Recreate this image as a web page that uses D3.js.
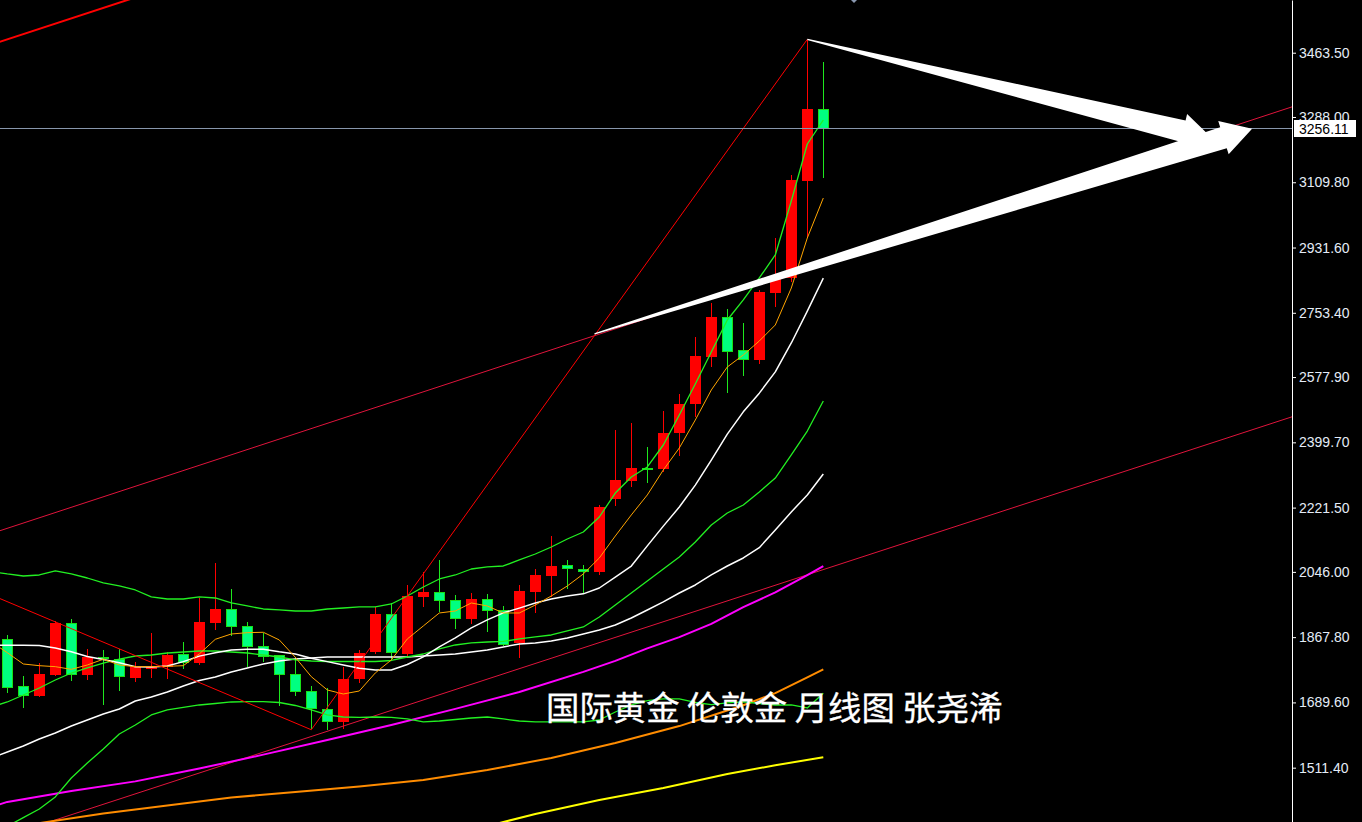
<!DOCTYPE html>
<html><head><meta charset="utf-8">
<script src="https://cdn.jsdelivr.net/npm/d3@7"></script>
<style>html,body{margin:0;padding:0;background:#000;overflow:hidden}</style>
</head><body>
<svg id="chart" width="1362" height="822"></svg>
<script>
// ---------- DATA (XAUUSD monthly) ----------
const months = ["2021-02","2021-03","2021-04","2021-05","2021-06","2021-07","2021-08","2021-09","2021-10","2021-11","2021-12","2022-01","2022-02","2022-03","2022-04","2022-05","2022-06","2022-07","2022-08","2022-09","2022-10","2022-11","2022-12","2023-01","2023-02","2023-03","2023-04","2023-05","2023-06","2023-07","2023-08","2023-09","2023-10","2023-11","2023-12","2024-01","2024-02","2024-03","2024-04","2024-05","2024-06","2024-07","2024-08","2024-09","2024-10","2024-11","2024-12","2025-01","2025-02","2025-03","2025-04","2025-05"];
const open  = [1862.0,1734.4,1708.0,1764.5,1906.5,1764.5,1812.8,1807.4,1757.1,1784.0,1785.5,1821.8,1796.4,1907.3,1943.9,1898.3,1843.7,1818.3,1767.2,1720.8,1670.8,1637.0,1752.8,1828.1,1931.0,1821.8,1978.3,1990.3,1969.3,1917.4,1972.0,1942.0,1851.1,1991.9,2035.6,2064.0,2053.1,2046.5,2244.2,2295.0,2330.5,2326.1,2424.4,2503.6,2633.6,2741.1,2651.8,2624.5,2808.3,2847.6,3114.1,3309.0];
const high  = [1873.7,1761.8,1797.2,1912.7,1916.6,1836.3,1832.8,1836.3,1800.8,1878.3,1828.1,1853.8,1975.6,2069.5,1998.5,1910.1,1879.9,1820.0,1812.8,1734.4,1728.2,1785.5,1832.8,1949.3,1960.2,2010.3,2046.5,2078.5,1982.9,1989.2,1985.0,1952.9,2010.3,2053.0,2144.0,2078.5,2064.8,2228.7,2433.4,2451.7,2387.8,2485.3,2531.7,2688.1,2781.0,2762.9,2726.4,2815.6,2956.8,3129.6,3498.3,3439.0];
const low   = [1716.1,1675.2,1705.2,1762.0,1749.0,1751.0,1682.6,1721.6,1746.3,1757.1,1752.8,1780.1,1791.0,1887.4,1871.0,1787.2,1800.8,1679.9,1707.1,1617.0,1614.3,1617.0,1743.5,1822.0,1805.5,1810.1,1949.3,1937.3,1891.0,1903.7,1882.8,1843.7,1810.1,1932.9,1978.3,1998.5,1987.6,2037.5,2225.9,2277.0,2287.9,2318.0,2362.4,2469.7,2605.4,2535.3,2580.8,2613.6,2770.0,2838.3,2956.8,3120.6];
const close = [1728.2,1708.0,1767.2,1907.3,1764.5,1812.8,1807.4,1758.2,1785.5,1787.0,1818.3,1798.1,1910.1,1943.9,1896.4,1841.8,1812.8,1764.5,1718.9,1670.8,1637.0,1753.6,1823.8,1931.0,1823.8,1980.2,1991.1,1967.4,1918.3,1972.0,1940.0,1846.4,1993.9,2037.5,2062.1,2053.1,2046.5,2224.0,2296.9,2328.8,2324.2,2424.4,2503.6,2635.4,2741.1,2647.2,2624.5,2811.0,2850.3,3116.0,3309.0,3256.11];

// indicator lines, values for candle index -1 .. 51
const bbUpper = [2047.1,2040.3,2034.8,2037.5,2048.5,2040.3,2029.3,2015.7,2007.5,1996.6,1977.5,1972.0,1972.0,1977.5,1974.7,1961.1,1952.9,1944.7,1942.0,1939.2,1939.2,1944.7,1947.4,1950.2,1950.2,1958.4,1980.2,2004.8,2026.6,2037.5,2053.9,2059.4,2062.1,2078.5,2094.8,2113.9,2135.8,2154.9,2195.8,2261.3,2305.0,2332.4,2392.4,2474.4,2559.0,2646.4,2733.7,2788.4,2848.4,2911.2,3058.6,3214.2,3279.8];
const bbMid   = [1677.1,1690.8,1709.9,1729.0,1750.8,1769.9,1783.6,1797.2,1808.1,1816.3,1819.1,1824.5,1827.3,1830.0,1830.0,1827.3,1824.5,1819.1,1813.6,1805.5,1802.7,1801.3,1801.3,1801.3,1801.3,1804.1,1813.6,1821.8,1835.5,1846.4,1851.9,1854.6,1856.0,1862.8,1868.3,1873.7,1884.7,1895.6,1922.9,1955.6,1988.4,2021.1,2053.9,2086.7,2127.6,2174.0,2206.8,2228.6,2264.1,2302.3,2365.2,2430.6,2512.6];
const bbLower = [1300.4,1351.2,1375.2,1398.7,1431.5,1483.3,1524.3,1562.5,1603.5,1628.0,1655.3,1669.0,1675.8,1682.6,1686.7,1690.8,1691.6,1691.6,1689.4,1681.2,1669.0,1655.3,1649.8,1649.0,1649.8,1649.0,1644.4,1636.2,1638.9,1643.0,1647.1,1649.8,1644.4,1638.9,1636.2,1636.2,1636.2,1636.2,1641.6,1663.5,1682.6,1694.3,1699.0,1699.0,1689.4,1683.4,1688.1,1690.8,1686.7,1682.6,1682.6,1674.4,1714.5];
const ma5  = [1854.6,1825.4,1794.5,1789.9,1787.2,1779.9,1791.8,1807.4,1791.8,1787.2,1787.2,1788.2,1789.9,1821.9,1861.9,1876.4,1880.0,1881.1,1860.1,1812.8,1759.9,1723.6,1712.6,1720.8,1770.0,1805.5,1862.8,1898.3,1933.8,1939.2,1961.1,1952.9,1933.8,1933.8,1955.6,1980.2,2007.5,2040.3,2083.9,2144.0,2201.4,2256.0,2324.2,2384.3,2460.7,2542.6,2605.4,2638.2,2676.4,2720.1,2821.0,2957.6,3066.8];
const ma10 = [1846,1846,1846,1845,1838,1828,1815,1807,1798,1787,1786,1789,1801,1816,1825,1833,1835,1835,1828,1822,1810,1801,1792,1783,1778,1778,1793,1814,1841,1866,1893,1915,1934,1947,1961,1972,1980,1986,2002,2032,2062,2117,2171,2223,2283,2351,2422,2483,2534,2592,2671,2758,2848];
const ma30 = [1537.9,1554.3,1570.6,1589.7,1606.1,1625.2,1641.6,1658.0,1671.6,1693.5,1704.4,1718.0,1734.4,1749.4,1759.0,1772.6,1783.6,1794.5,1802.7,1808.2,1810.9,1813.6,1813.6,1813.6,1813.6,1813.6,1813.6,1816.3,1819.1,1821.8,1827.3,1832.8,1841.0,1849.2,1851.9,1857.4,1865.6,1876.5,1887.4,1901.1,1920.2,1942.0,1963.9,1988.4,2010.3,2037.6,2062.1,2084.0,2112.0,2160.4,2209.6,2256.0,2313.3];
// slow averages read at sampled candle indices
const ma60Idx  = [-1,0,4,8,12,16,20,24,28,32,36,38,40,42,44,46,48,50,51];
const ma60     = [1404,1418,1448,1474,1509,1547,1587,1628,1672,1718,1773,1803,1837,1868,1904,1950,1990,2037,2062];
const ma120Idx = [-1,2,6,10,14,18,22,26,30,34,38,42,46,48,50,51];
const ma120    = [1341,1360,1386,1408,1430,1445,1460,1478,1505,1538,1579,1625,1682,1715,1758,1780];
const ma240Idx = [30,33,37,41,45,48,51];
const ma240    = [1352,1385,1423,1456,1494,1518,1540];

// drawn objects, [candle index, price]
const zigzag     = [[-6,2075],[19,1615],[50,3500]];
const channelTop = [[0,3500],[50,4215]];
const channelMid = [[0,2165],[50,2881.5]];
const channelLow = [[0,1326],[50,2038]];
const arrowFrom  = [[50,3500],[36.7,2696]];
const arrowTo    = [[75.3,3230],[77.8,3256]];

const priceTicks = [1511.40,1689.60,1867.80,2046.00,2221.50,2399.70,2577.90,2753.40,2931.60,3109.80,3288.00,3463.50];
const lastPrice = 3256.11;
const title = "国际黄金 伦敦金 月线图 张尧浠";

// ---------- CHART ----------
const W = 1362, H = 822, axisX = 1292;
const x = d3.scaleLinear().domain([0, months.length - 1]).range([7.3, 823.3]);
const y = d3.scaleLinear().domain([1363.1, 3607.4]).range([H, 0]);

const svg = d3.select("#chart");
svg.append("rect").attr("width", W).attr("height", H).attr("fill", "#000");
svg.append("defs").append("clipPath").attr("id", "plot")
  .append("rect").attr("width", axisX).attr("height", H);
const plot = svg.append("g").attr("clip-path", "url(#plot)");

const line = d3.line().x(d => x(d[0])).y(d => y(d[1]));
const seq = arr => arr.map((v, k) => [k - 1, v]);
const pair = (idx, vals) => idx.map((i, k) => [i, vals[k]]);
function extend(p) {
  const [a, b] = p, s = (b[1] - a[1]) / (b[0] - a[0]);
  const i0 = x.invert(-10), i1 = x.invert(axisX + 10);
  return [[i0, a[1] + s * (i0 - a[0])], [i1, a[1] + s * (i1 - a[0])]];
}

// candles
const candles = months.map((m, i) => ({ i, o: open[i], h: high[i], l: low[i], c: close[i], up: close[i] >= open[i] }));
const cg = plot.append("g");
cg.selectAll("line.wick").data(candles).join("line").attr("class", "wick")
  .attr("x1", d => Math.round(x(d.i)) + 0.5).attr("x2", d => Math.round(x(d.i)) + 0.5)
  .attr("y1", d => y(d.h)).attr("y2", d => y(d.l))
  .attr("stroke", d => d.up ? "#ff0000" : "#1ee81e").attr("stroke-width", 1)
  .attr("shape-rendering", "crispEdges");
cg.selectAll("rect.body").data(candles).join("rect").attr("class", "body")
  .each(function (d) {
    const cx = Math.round(x(d.i));
    const top = Math.round(y(Math.max(d.o, d.c))), bot = Math.round(y(Math.min(d.o, d.c)));
    const h = Math.max(2, bot - top);
    const r = d3.select(this).attr("shape-rendering", "crispEdges");
    if (d.up) r.attr("x", cx - 5).attr("y", top).attr("width", 11).attr("height", h).attr("fill", "#ff0000");
    else r.attr("x", cx - 4.5).attr("y", top + 0.5).attr("width", 10).attr("height", Math.max(1, h - 1))
          .attr("fill", "#00ff80").attr("stroke", "#18e018").attr("stroke-width", 1);
  });

// channel lines
const chan = [
  { p: channelTop, c: "#ff0000", w: 2 },
  { p: channelMid, c: "#e0143c", w: 1 },
  { p: channelLow, c: "#e0143c", w: 1 }
];
plot.selectAll("path.chan").data(chan).join("path").attr("class", "chan")
  .attr("d", d => line(extend(d.p))).attr("fill", "none")
  .attr("stroke", d => d.c).attr("stroke-width", d => d.w);

// indicator lines
const series = [
  { d: pair(ma240Idx, ma240), c: "#ffff00", w: 2 },
  { d: pair(ma120Idx, ma120), c: "#ff8c00", w: 2 },
  { d: pair(ma60Idx, ma60),   c: "#ff00ff", w: 2 },
  { d: seq(ma30),    c: "#ffffff", w: 1.5 },
  { d: seq(bbLower), c: "#22f022", w: 1.3 },
  { d: seq(bbMid),   c: "#22f022", w: 1.3 },
  { d: seq(bbUpper), c: "#22f022", w: 1.3 },
  { d: seq(ma10),    c: "#ffffff", w: 1.5 },
  { d: seq(ma5),     c: "#ffa500", w: 1 }
];
plot.selectAll("path.ind").data(series).join("path").attr("class", "ind")
  .attr("d", d => line(d.d)).attr("fill", "none")
  .attr("stroke", d => d.c).attr("stroke-width", d => d.w).attr("stroke-linejoin", "round");

// zigzag
plot.append("path").attr("d", line(zigzag)).attr("fill", "none").attr("stroke", "#ff0000").attr("stroke-width", 1);

// current price line
const ly = y(lastPrice);
plot.append("line").attr("x1", 0).attr("x2", axisX).attr("y1", Math.round(ly) - 0.5).attr("y2", Math.round(ly) - 0.5)
  .attr("stroke", "#8796ab").attr("stroke-width", 1).attr("shape-rendering", "crispEdges");

// tapered arrows
function arrowPath(a, b, headLen, headHalf, shaftHalf) {
  const x0 = x(a[0]), y0 = y(a[1]), x1 = x(b[0]), y1 = y(b[1]);
  const dx = x1 - x0, dy = y1 - y0, L = Math.hypot(dx, dy);
  const ux = dx / L, uy = dy / L, nx = -uy, ny = ux;
  const bx = x1 - ux * headLen, by = y1 - uy * headLen;
  const pts = [[x0 + nx * 0.6, y0 + ny * 0.6], [bx + nx * shaftHalf, by + ny * shaftHalf], [bx + nx * headHalf, by + ny * headHalf],
    [x1, y1], [bx - nx * headHalf, by - ny * headHalf], [bx - nx * shaftHalf, by - ny * shaftHalf], [x0 - nx * 0.6, y0 - ny * 0.6]];
  return "M" + pts.map(p => p[0].toFixed(2) + "," + p[1].toFixed(2)).join("L") + "Z";
}
plot.selectAll("path.arrow").data(arrowFrom.map((f, k) => [f, arrowTo[k]])).join("path").attr("class", "arrow")
  .attr("d", d => arrowPath(d[0], d[1], 30, 17.5, 11)).attr("fill", "#ffffff");

// title
svg.append("text").attr("x", 546).attr("y", 720).text(title)
  .attr("font-family", "'Noto Sans CJK SC', sans-serif").attr("font-size", 33.4).attr("fill", "#ffffff")
  .attr("stroke", "#ffffff").attr("stroke-width", 0.3);

// shift marker
svg.append("path").attr("d", "M851,0L857,0L854,3Z").attr("fill", "#8a98b0");

// price axis
const axis = d3.axisRight(y).tickValues(priceTicks).tickFormat(d3.format(".2f"))
  .tickSize(4).tickPadding(3).tickSizeOuter(0);
const ag = svg.append("g").attr("transform", `translate(${axisX},0)`).call(axis);
ag.select(".domain").attr("stroke", "#ffffff");
ag.selectAll(".tick line").attr("stroke", "#ffffff");
ag.selectAll(".tick text").attr("fill", "#e4ecf7").attr("font-family", "'Liberation Sans', Arial, sans-serif").attr("font-size", 14);

// last price label
svg.append("rect").attr("x", axisX + 2).attr("y", Math.round(ly) - 9).attr("width", 62).attr("height", 17).attr("fill", "#ffffff");
svg.append("text").attr("x", axisX + 7).attr("y", ly).attr("dy", "0.35em").text(lastPrice.toFixed(2))
  .attr("fill", "#000000").attr("font-family", "'Liberation Sans', Arial, sans-serif").attr("font-size", 14);
</script>
</body></html>
